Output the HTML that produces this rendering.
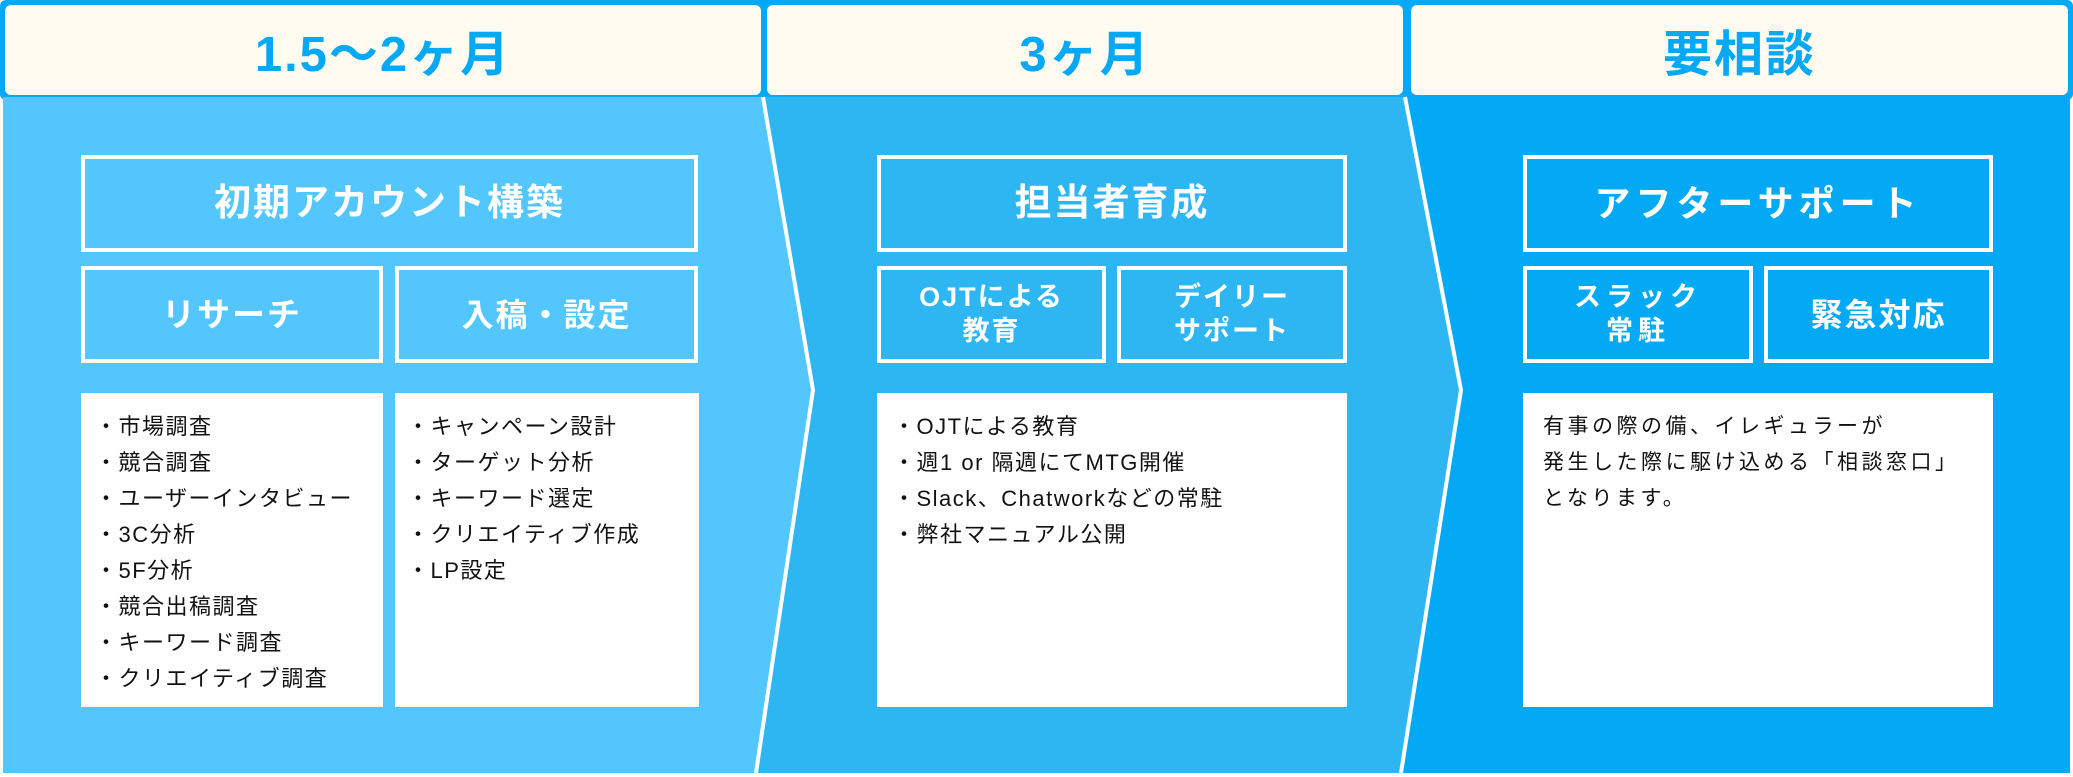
<!DOCTYPE html>
<html><head><meta charset="utf-8"><style>
body{margin:0;width:2073px;height:777px;background:#fff;position:relative;overflow:hidden;font-family:"Liberation Sans","Noto Sans CJK JP",sans-serif}
.a{position:absolute;box-sizing:border-box}
.h{color:#03a9f4;font-weight:bold;font-size:49px;display:flex;align-items:center;justify-content:center;letter-spacing:2px}
.b{border:4px solid #fff;color:#fff;font-weight:bold;display:flex;align-items:center;justify-content:center;text-align:center;line-height:1.25;letter-spacing:2px}
.w{background:#fff;color:#111;font-size:22px;line-height:36px;padding-top:16px;letter-spacing:1.5px}
</style></head><body>
<svg class="a" style="left:0;top:0" width="2073" height="777">
<rect x="0" y="0" width="2073" height="100" fill="#03a9f4" rx="6"/>
<polygon points="3,97 763,97 813,390 756,773 3,773" fill="#53c6fd"/>
<polygon points="763,97 1405,97 1461,390 1401,773 756,773 813,390" fill="#2eb6f3"/>
<polygon points="1405,97 2070,97 2070,773 1401,773 1461,390" fill="#03a9f4"/>
<polyline points="763,97 813,390 756,773" fill="none" stroke="#fff" stroke-width="4"/>
<polyline points="1405,97 1461,390 1401,773" fill="none" stroke="#fff" stroke-width="4"/>
<rect x="5" y="5" width="756" height="90" rx="6" fill="#fffbf0"/>
<rect x="767" y="5" width="636" height="90" rx="6" fill="#fffbf0"/>
<rect x="1411" y="5" width="657" height="90" rx="6" fill="#fffbf0"/>
</svg>
<div class="a h" style="left:5px;top:5px;width:756px;height:90px">1.5〜2ヶ月</div>
<div class="a h" style="left:767px;top:5px;width:636px;height:90px">3ヶ月</div>
<div class="a h" style="left:1411px;top:5px;width:657px;height:90px">要相談</div>

<div class="a b" style="left:81px;top:155px;width:617px;height:97px;font-size:37px">初期アカウント構築</div>
<div class="a b" style="left:81px;top:266px;width:302px;height:97px;font-size:33px">リサーチ</div>
<div class="a b" style="left:395px;top:266px;width:303px;height:97px;font-size:32px">入稿・設定</div>
<div class="a w" style="left:81px;top:393px;width:302px;height:314px;padding-left:14px">・市場調査<br>・競合調査<br>・ユーザーインタビュー<br>・3C分析<br>・5F分析<br>・競合出稿調査<br>・キーワード調査<br>・クリエイティブ調査</div>
<div class="a w" style="left:395px;top:393px;width:304px;height:314px;padding-left:12px">・キャンペーン設計<br>・ターゲット分析<br>・キーワード選定<br>・クリエイティブ作成<br>・LP設定</div>

<div class="a b" style="left:877px;top:155px;width:470px;height:97px;font-size:37px">担当者育成</div>
<div class="a b" style="left:877px;top:266px;width:229px;height:97px;font-size:27px">OJTによる<br>教育</div>
<div class="a b" style="left:1117px;top:266px;width:230px;height:97px;font-size:27px">デイリー<br>サポート</div>
<div class="a w" style="left:877px;top:393px;width:470px;height:314px;padding-left:16px">・OJTによる教育<br>・週1 or 隔週にてMTG開催<br>・Slack、Chatworkなどの常駐<br>・弊社マニュアル公開</div>

<div class="a b" style="left:1523px;top:155px;width:470px;height:97px;font-size:36px;letter-spacing:5px">アフターサポート</div>
<div class="a b" style="left:1523px;top:266px;width:230px;height:97px;font-size:27px;letter-spacing:5px">スラック<br>常駐</div>
<div class="a b" style="left:1764px;top:266px;width:229px;height:97px;font-size:32px">緊急対応</div>
<div class="a w" style="left:1523px;top:393px;width:470px;height:314px;padding-left:20px;font-size:21px;letter-spacing:3.5px">有事の際の備、イレギュラーが<br>発生した際に駆け込める「相談窓口」<br>となります。</div>
</body></html>
